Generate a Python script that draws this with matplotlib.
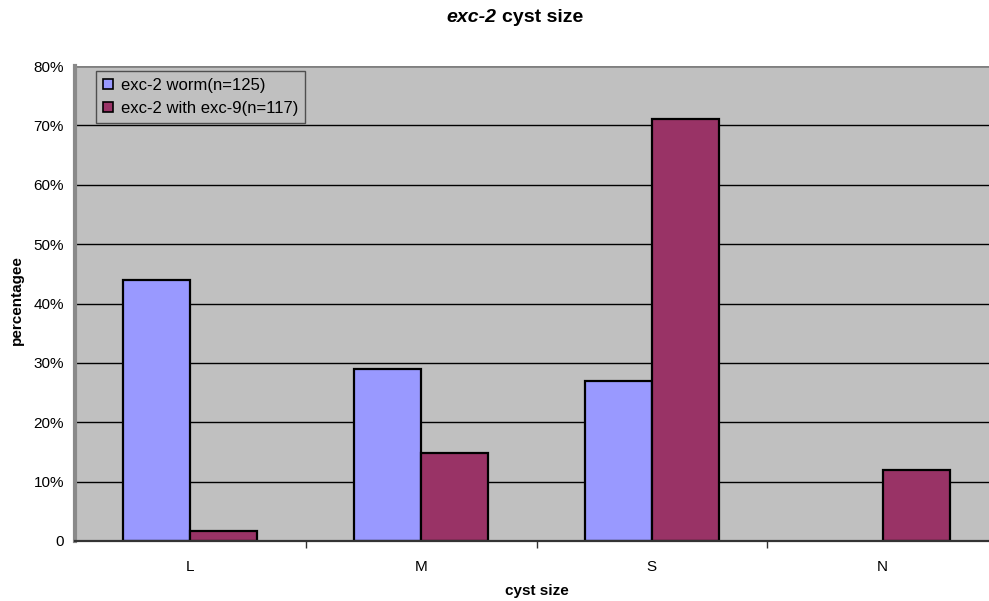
import matplotlib
matplotlib.use("Agg")
import matplotlib.pyplot as plt
import numpy as np
from matplotlib.ticker import FuncFormatter, FixedLocator

plt.rcParams["font.family"] = ["Liberation Sans", "DejaVu Sans"]

categories = ["L", "M", "S", "N"]
worm_pct = [44.0, 29.0, 27.0, 0.0]
exc9_pct = [1.7, 14.8, 71.1, 12.0]
series_labels = ["exc-2 worm(n=125)", "exc-2 with exc-9(n=117)"]
yticks = [0, 10, 20, 30, 40, 50, 60, 70, 80]

BLUE = "#9999FF"
PLUM = "#993366"
BG = "#C0C0C0"

fig = plt.figure(figsize=(9.89, 6.01), dpi=100)
ax = fig.add_axes([75 / 989, 1 - 541 / 601, 923 / 989, 475 / 601])
ax.set_facecolor(BG)

x = np.arange(len(categories))
w = 0.29
worm_bars = ax.bar(x - w / 2, worm_pct, w, color=BLUE, edgecolor="black", lw=1.6,
                   label=series_labels[0], zorder=3)
ax.bar(x + w / 2, exc9_pct, w, color=PLUM, edgecolor="black", lw=1.6,
       label=series_labels[1], zorder=3)
# empty categories get no outline
for b, v in zip(worm_bars, worm_pct):
    if v == 0:
        b.set_visible(False)

ax.set_xlim(-0.5, len(categories) - 0.5)
ax.set_ylim(0, 80)

# horizontal gridlines every 10%
for v in yticks[1:-1]:
    ax.axhline(v, color="black", lw=1.0, zorder=1)
ax.axhline(80, color="#808080", lw=2.0, zorder=1)

ax.yaxis.set_major_locator(FixedLocator(yticks))
ax.yaxis.set_major_formatter(FuncFormatter(lambda v, p: "0" if v == 0 else f"{v:.0f}%"))
ax.tick_params(axis="y", length=0, pad=8, labelsize=11)

ax.set_xticks(x)
ax.set_xticklabels(categories, fontsize=11)
ax.set_xticks(np.arange(0.5, len(categories) - 0.5, 1), minor=True)
ax.tick_params(axis="x", which="major", length=0, pad=14)
ax.tick_params(axis="x", which="minor", length=5, width=1, color="#333333",
               direction="out")

for s in ["top", "right"]:
    ax.spines[s].set_visible(False)
ax.spines["left"].set_color("#8a8a8a")
ax.spines["left"].set_linewidth(3)
ax.spines["bottom"].set_color("#333333")
ax.spines["bottom"].set_linewidth(1.6)
ax.spines["bottom"].set_zorder(4)

ax.set_xlabel("cyst size", fontsize=11, fontweight="bold", va="center")
ax.set_ylabel("percentagee", fontsize=11, fontweight="bold", va="center")
ax.xaxis.set_label_coords((537 - 75) / 923, -50 / 475)
ax.yaxis.set_label_coords(-(75 - 17) / 923, (541 - 300) / 475)

leg = ax.legend(loc="upper left", bbox_to_anchor=(21 / 923, 1 - 5 / 475),
                fontsize=12, frameon=True, fancybox=False, handlelength=0.6,
                handleheight=0.6, handletextpad=0.5, borderpad=0.4,
                labelspacing=0.5, borderaxespad=0)
leg.get_frame().set_facecolor(BG)
leg.get_frame().set_edgecolor("#333333")
leg.get_frame().set_linewidth(1.0)
for h in leg.legend_handles:
    h.set_linewidth(1.2)

fig.text(496 / 989, 1 - 18 / 601, "exc-2", ha="right", va="center",
         fontsize=14, fontweight="bold", fontstyle="italic")
fig.text(502 / 989, 1 - 18 / 601, "cyst size", ha="left", va="center",
         fontsize=14, fontweight="bold")

fig.savefig("out.png", dpi=100)
